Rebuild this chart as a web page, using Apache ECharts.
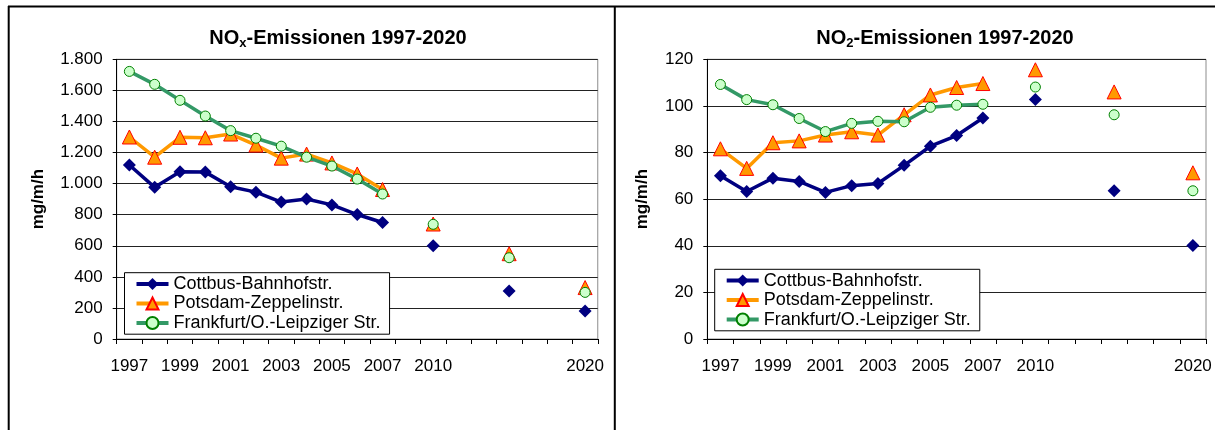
<!DOCTYPE html>
<html><head><meta charset="utf-8">
<script src="https://cdn.jsdelivr.net/npm/echarts@6/dist/echarts.min.js"></script>
<style>
html,body{margin:0;padding:0;background:#fff;}
#left{position:absolute;left:0;top:0;width:607px;height:430px;}
#right{position:absolute;left:607px;top:0;width:608px;height:430px;}
</style></head><body>
<div id="left"></div><div id="right"></div>
<script>
// x slots: 1997..2007, filler, 2010, fillers, (2015 unlabeled), fillers, 2020
const categories = ['1997','1998','1999','2000','2001','2002','2003','2004','2005','2006','2007','','2010','','','','','','2020'];
const seriesNames = ['Cottbus-Bahnhofstr.','Potsdam-Zeppelinstr.','Frankfurt/O.-Leipziger Str.'];
const noxTickLabels = ['0','200','400','600','800','1.000','1.200','1.400','1.600','1.800'];
const no2TickLabels = ['0','20','40','60','80','100','120'];

const noxCottbus   = [1120,976,1077,1074,980,945,881,901,863,801,750,null,600,null,null,309,null,null,180];
const noxPotsdam   = [1300,1170,1298,1295,1319,1248,1164,1190,1133,1062,962,null,740,null,null,549,null,null,331];
const noxFrankfurt = [1722,1639,1536,1435,1341,1292,1241,1170,1113,1029,933,null,738,null,null,523,null,null,300];

const no2Cottbus   = [70.0,63.3,69.0,67.6,62.9,65.8,66.7,74.5,82.7,87.3,94.8,null,102.8,null,null,63.6,null,null,40.1];
const no2Potsdam   = [81.6,73.2,84.2,85.0,87.5,88.9,87.5,96.2,104.7,107.9,109.6,null,115.5,null,null,106.0,null,null,71.3];
const no2Frankfurt = [109.2,102.7,100.5,94.6,89.0,92.5,93.4,93.2,99.4,100.3,100.7,null,108.1,null,null,96.2,null,null,63.6];

const FONT = "'Liberation Sans', Arial, sans-serif";

const styles = [
  {color:'#000080', symbol:'diamond', symbolSize:13, item:{color:'#000080', borderWidth:0}},
  {color:'#FF9900', symbol:'triangle', symbolSize:14, item:{color:'#FF9900', borderColor:'#FF0000', borderWidth:1}},
  {color:'#339966', symbol:'circle', symbolSize:10, item:{color:'#CCFFCC', borderColor:'#008000', borderWidth:1}}
];

function makeSeries(dataArr){
  return dataArr.map((d,i)=>({
    name: seriesNames[i], type:'line', data:d, connectNulls:false,
    symbol: styles[i].symbol, symbolSize: styles[i].symbolSize, showSymbol:true,
    lineStyle:{color:styles[i].color, width:3.5},
    itemStyle: styles[i].item, color: styles[i].color,
    emphasis:{disabled:true}, animation:false, z: 2+i
  }));
}

function makeOption(cfg){
  return {
    animation:false,
    textStyle:{fontFamily:FONT},
    title:{
      text:'{t|NO}{s|'+cfg.sub+'}{t|-Emissionen 1997-2020}',
      left:cfg.titleX, top:21, textAlign:'center',
      textStyle:{rich:{
        t:{fontSize:20, fontWeight:'bold', fontFamily:FONT, color:'#000', lineHeight:24},
        s:{fontSize:13, fontWeight:'bold', fontFamily:FONT, color:'#000', lineHeight:13, verticalAlign:'bottom'}
      }}
    },
    grid:{left:cfg.gridLeft, right:9, top:59.3, bottom:91, show:true, borderColor:'#8c8c8c', borderWidth:1, backgroundColor:'#fff'},
    legend:{
      orient:'vertical', left:cfg.legendX, top:cfg.legendY,
      data:seriesNames.map((n,i)=>({name:n, lineStyle:{color:styles[i].color, width:4}})),
      itemWidth:32, itemHeight:15, itemGap:1,
      lineStyle:{width:4},
      padding:[2,9,2,10], borderColor:'#000', borderWidth:1, backgroundColor:'#fff',
      textStyle:{fontFamily:FONT, fontSize:18, color:'#000', lineHeight:18.5},
      selectedMode:false
    },
    xAxis:{
      type:'category', data:categories, boundaryGap:true,
      axisLine:{show:true, lineStyle:{color:'#000', width:1}},
      axisTick:{show:true, interval:0, length:5, lineStyle:{color:'#000'}},
      axisLabel:{interval:1, margin:19, fontSize:17, color:'#000', fontFamily:FONT},
      splitLine:{show:false}
    },
    yAxis:{
      type:'value', min:0, max:cfg.max, interval:cfg.interval,
      name:'mg/m/h', nameLocation:'middle', nameGap:cfg.nameGap, nameRotate:90,
      nameTextStyle:{fontSize:17, fontWeight:'bold', color:'#000', fontFamily:FONT},
      axisLine:{show:true, lineStyle:{color:'#000', width:1}},
      axisTick:{show:true, length:4, lineStyle:{color:'#000'}},
      axisLabel:{margin:14, fontSize:17, color:'#000', fontFamily:FONT,
        formatter:(v,idx)=>cfg.ticks[Math.round(v/cfg.interval)]},
      splitLine:{show:true, lineStyle:{color:'#222', width:1}}
    },
    graphic:cfg.frame,
    series:makeSeries(cfg.data)
  };
}

const left = echarts.init(document.getElementById('left'), null, {renderer:'canvas'});
left.setOption(makeOption({
  sub:'x', titleX:333, gridLeft:116.7, legendX:124.5, legendY:272.7,
  max:1800, interval:200, ticks:noxTickLabels, nameGap:70,
  data:[noxCottbus, noxPotsdam, noxFrankfurt],
  frame:[
    {type:'line', shape:{x1:8.7,y1:6,x2:8.7,y2:430}, style:{stroke:'#000', lineWidth:2}, silent:true},
    {type:'line', shape:{x1:8,y1:6.5,x2:607,y2:6.5}, style:{stroke:'#000', lineWidth:2}, silent:true}
  ]
}));

const right = echarts.init(document.getElementById('right'), null, {renderer:'canvas'});
right.setOption(makeOption({
  sub:'2', titleX:333, gridLeft:100.3, legendX:107.7, legendY:269.3,
  max:120, interval:20, ticks:no2TickLabels, nameGap:56,
  data:[no2Cottbus, no2Potsdam, no2Frankfurt],
  frame:[
    {type:'line', shape:{x1:7.8,y1:6,x2:7.8,y2:430}, style:{stroke:'#000', lineWidth:2}, silent:true},
    {type:'line', shape:{x1:0,y1:6.5,x2:608,y2:6.5}, style:{stroke:'#000', lineWidth:2}, silent:true}
  ]
}));
</script>
</body></html>
